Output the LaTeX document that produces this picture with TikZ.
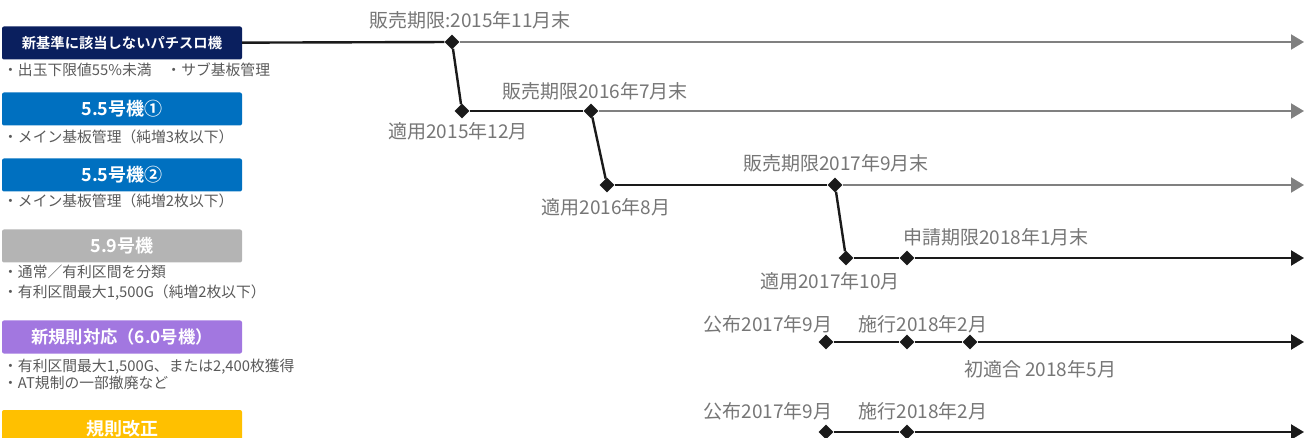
\documentclass[tikz,border=0pt]{standalone}
\usepackage{fontspec}
\setmainfont{Noto Sans CJK JP}[BoldFont={Noto Sans CJK JP Bold}]
\usepackage{xcolor}
\usepackage{tikz}
\usetikzlibrary{arrows.meta,positioning,shapes.geometric}
\definecolor{navy}{HTML}{0A1F5E}
\definecolor{mainblue}{HTML}{0070C0}
\definecolor{boxgray}{HTML}{B4B4B4}
\definecolor{lavender}{HTML}{A277E0}
\definecolor{gold}{HTML}{FFC000}
\definecolor{notegray}{HTML}{595959}
\definecolor{dategray}{HTML}{767676}
\definecolor{linegray}{HTML}{808080}
\definecolor{lineblack}{HTML}{1A1A1A}

\begin{document}
\begin{tikzpicture}[
    x=1pt,y=-1pt,
    kind/.style={rounded corners=2pt,inner sep=0pt,minimum width=240pt,minimum height=33pt,text=white,font=\bfseries\fontsize{18}{18}\selectfont},
    note/.style={anchor=west,align=left,inner sep=0pt,text=notegray,font=\fontsize{14.8}{18}\selectfont},
    date/.style={inner sep=0pt,text=dategray,font=\fontsize{19}{19}\selectfont},
    dmd/.style={diamond,fill=lineblack,inner sep=0pt,minimum size=15pt},
    live/.style={line width=2.4pt,draw=lineblack},
    goes/.style={live,-{Triangle[length=13pt,width=15pt]}},
    gone/.style={line width=2pt,draw=linegray,-{Triangle[length=13pt,width=15pt]}}
]
    \useasboundingbox (0,0) rectangle (1304,438);

    % left column
    \node[kind,fill=navy,font=\bfseries\fontsize{14.3}{15}\selectfont] (old) at (122,43) {新基準に該当しないパチスロ機};
    \node[note] (oldn) at (3,70) {・出玉下限値55\%未満　・サブ基板管理};
    \node[kind,fill=mainblue] (five1) at (122,109) {5.5号機①};
    \node[note] (five1n) at (3,137) {・メイン基板管理（純増3枚以下）};
    \node[kind,fill=mainblue] (five2) at (122,175) {5.5号機②};
    \node[note] (five2n) at (3,201) {・メイン基板管理（純増2枚以下）};
    \node[kind,fill=boxgray] (nine) at (122,246) {5.9号機};
    \node[note,font=\fontsize{14.8}{20}\selectfont] (ninen) at (3,283) {・通常／有利区間を分類\\・有利区間最大1,500G（純増2枚以下）};
    \node[note,font=\fontsize{14.8}{17}\selectfont] (sixn) at (3,374.5) {・有利区間最大1,500G、または2,400枚獲得\\・AT規制の一部撤廃など};
    \node[kind,fill=lavender,font=\bfseries\fontsize{17.3}{18}\selectfont] (six) at (122,337) {新規則対応（6.0号機）};
    \node[kind,fill=gold,minimum height=38pt] (rule) at (122,429) {規則改正};

    % timeline points
    \node[dmd] (d1) at (452,42) {};
    \node[dmd] (d2) at (462,111) {};
    \node[dmd] (d3) at (591,111) {};
    \node[dmd] (d4) at (607,185) {};
    \node[dmd] (d5) at (835,185) {};
    \node[dmd] (d6) at (846,258) {};
    \node[dmd] (d7) at (907,258) {};
    \node[dmd] (p1) at (826,342) {};
    \node[dmd] (p2) at (907,342) {};
    \node[dmd] (p3) at (970,342) {};
    \node[dmd] (q1) at (826,432) {};
    \node[dmd] (q2) at (907,432) {};
    \coordinate (e1) at (1304,42);
    \coordinate (e2) at (1304,111);
    \coordinate (e3) at (1304,185);
    \coordinate (e4) at (1304,258);
    \coordinate (e5) at (1304,342);
    \coordinate (e6) at (1304,432);

    % dates
    \node[date] (l1) at (470,20) {販売期限:2015年11月末};
    \node[date] (l2) at (458,131) {適用2015年12月};
    \node[date] (l3) at (595,91) {販売期限2016年7月末};
    \node[date] (l4) at (606,207) {適用2016年8月};
    \node[date] (l5) at (836,163) {販売期限2017年9月末};
    \node[date] (l6) at (830,281) {適用2017年10月};
    \node[date] (l7) at (996,237) {申請期限2018年1月末};
    \node[date] (l8) at (768,324) {公布2017年9月};
    \node[date] (l9) at (923,324) {施行2018年2月};
    \node[date] (l10) at (1040,369) {初適合 2018年5月};
    \node[date] (l11) at (768,411) {公布2017年9月};
    \node[date] (l12) at (923,411) {施行2018年2月};

    \draw[gone] (d1) -- (e1);
    \draw[gone] (d3) -- (e2);
    \draw[gone] (d5) -- (e3);
    \draw[live] (old) -- (d1);
    \draw[live] (d1) -- (d2);
    \draw[live] (d2) -- (d3);
    \draw[live] (d3) -- (d4);
    \draw[live] (d4) -- (d5);
    \draw[live] (d5) -- (d6);
    \draw[live] (d6) -- (d7);
    \draw[goes] (d7) -- (e4);
    \draw[live] (p1) -- (p2);
    \draw[live] (p2) -- (p3);
    \draw[goes] (p3) -- (e5);
    \draw[live] (q1) -- (q2);
    \draw[goes] (q2) -- (e6);
\end{tikzpicture}
\end{document}
